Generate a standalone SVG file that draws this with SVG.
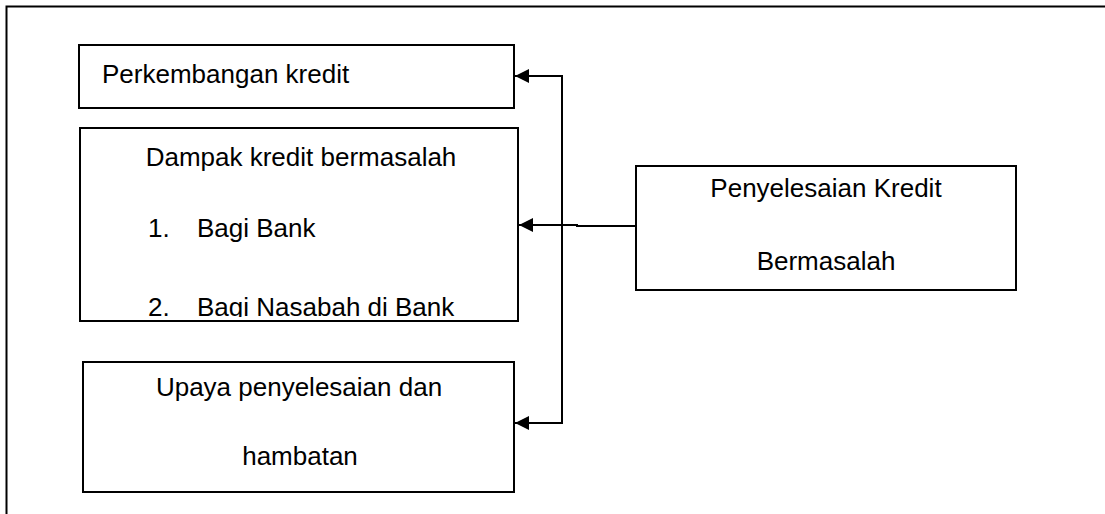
<svg xmlns="http://www.w3.org/2000/svg" width="1105" height="514" viewBox="0 0 1105 514">
  <style>
    .box { fill: #ffffff; stroke: #000000; stroke-width: 2; }
    .frame { fill: none; stroke: #000000; stroke-width: 2; }
    .t { font-family: "Liberation Sans", Arial, sans-serif; font-size: 26px; fill: #000000; }
    .c { text-anchor: middle; }
    .conn { fill: none; stroke: #000000; stroke-width: 2; }
  </style>
  <defs>
    <marker id="arrow" viewBox="0 0 14 14" refX="14" refY="7" markerWidth="14" markerHeight="14" markerUnits="userSpaceOnUse" orient="auto">
      <path d="M0,0 L14,7 L0,14 Z" fill="#000000"/>
    </marker>
    <clipPath id="clip2">
      <rect x="81" y="129" width="436" height="188"/>
    </clipPath>
  </defs>
  <rect width="1105" height="514" fill="#ffffff"/>
  <path class="frame" d="M6.5,514 L6.5,6.5 L1105,6.5"/>

  <g id="node-perkembangan">
    <rect class="box" x="79" y="45" width="435" height="63"/>
    <text class="t" x="102" y="83">Perkembangan kredit</text>
  </g>

  <g id="node-dampak">
    <rect class="box" x="80" y="128" width="438" height="193"/>
    <g clip-path="url(#clip2)">
      <text class="t c" x="301" y="166">Dampak kredit bermasalah</text>
      <text class="t" x="148" y="237">1.</text>
      <text class="t" x="197" y="237">Bagi Bank</text>
      <text class="t" x="148" y="316">2.</text>
      <text class="t" x="197" y="316">Bagi Nasabah di Bank</text>
    </g>
  </g>

  <g id="node-upaya">
    <rect class="box" x="83" y="362" width="431" height="130"/>
    <text class="t c" x="299" y="396">Upaya penyelesaian dan</text>
    <text class="t c" x="300" y="465">hambatan</text>
  </g>

  <g id="node-penyelesaian">
    <rect class="box" x="636" y="166" width="380" height="124"/>
    <text class="t c" x="826" y="197">Penyelesaian Kredit</text>
    <text class="t c" x="826" y="270">Bermasalah</text>
  </g>

  <g id="connectors">
    <path class="conn" d="M562,75 L562,424"/>
    <path class="conn" d="M562,76 L515,76" marker-end="url(#arrow)"/>
    <path class="conn" d="M636,226 L577,226 L577,225 L519,225" marker-end="url(#arrow)"/>
    <path class="conn" d="M562,423 L515,423" marker-end="url(#arrow)"/>
  </g>
</svg>
